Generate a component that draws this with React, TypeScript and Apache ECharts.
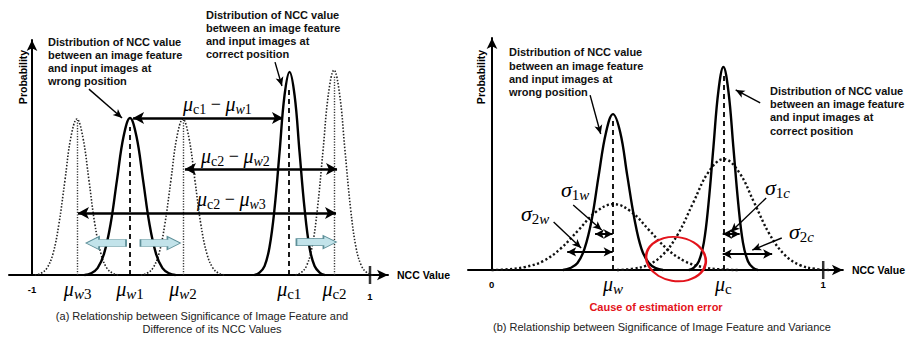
import React, { useEffect, useRef } from 'react';
import * as echarts from 'echarts';

// ---------- Panel (a): NCC value positions and distributions ----------
const A_MU_NAMES = ['w3', 'w1', 'w2', 'c1', 'c2'];
const A_MU_VALUES = [-0.730, -0.420, -0.107, 0.522, 0.790];
const A_MU_LINE_TOPS = [66, 63, 66, 79, 85];
const A_MU_LINE_KIND = ['dotted', 'dashed', 'dotted', 'dashed', 'dotted'];
const A_END_TICKS = [-1, 1];

const A_W3_X = [-0.983, -0.947, -0.912, -0.876, -0.841, -0.805, -0.770, -0.734, -0.699, -0.663, -0.628, -0.592, -0.557, -0.521, -0.486];
const A_W3_Y = [0, 0.7, 2.9, 9.0, 21.6, 40.3, 58.6, 66.4, 58.6, 40.3, 21.6, 9.0, 2.9, 0.7, 0];
const A_W1_X = [-0.689, -0.651, -0.612, -0.574, -0.535, -0.497, -0.458, -0.420, -0.382, -0.343, -0.305, -0.266, -0.228, -0.189, -0.151];
const A_W1_Y = [0, 0.7, 2.9, 9.0, 21.7, 40.5, 59.0, 66.8, 59.0, 40.5, 21.7, 9.0, 2.9, 0.7, 0];
const A_W2_X = [-0.356, -0.320, -0.285, -0.249, -0.214, -0.178, -0.143, -0.107, -0.072, -0.036, -0.001, 0.035, 0.071, 0.106, 0.142];
const A_W2_Y = [0, 0.7, 2.9, 9.0, 21.6, 40.3, 58.6, 66.4, 58.6, 40.3, 21.6, 9.0, 2.9, 0.7, 0];
const A_C1_X = [0.317, 0.346, 0.376, 0.405, 0.435, 0.465, 0.494, 0.524, 0.554, 0.583, 0.613, 0.642, 0.672, 0.702, 0.731];
const A_C1_Y = [0, 1.0, 3.8, 11.7, 28.1, 52.4, 76.3, 86.4, 76.3, 52.4, 28.1, 11.7, 3.8, 1.0, 0];
const A_C2_X = [0.559, 0.592, 0.624, 0.657, 0.689, 0.722, 0.754, 0.787, 0.820, 0.852, 0.885, 0.917, 0.950, 0.982, 1.015];
const A_C2_Y = [0, 1.0, 3.8, 11.8, 28.3, 52.9, 77.0, 87.2, 77.0, 52.9, 28.3, 11.8, 3.8, 1.0, 0];

// difference arrows (mu_c - mu_w)
const A_DIFF_LABELS = [['c1', 'w', '1'], ['c2', 'w', '2'], ['c2', 'w', '3']];
const A_DIFF_Y = [66.8, 45.1, 26.4];
const A_DIFF_FROM = [-0.402, -0.095, -0.728];
const A_DIFF_TO = [0.485, 0.805, 0.799];
// shift arrows (blue)
const A_SHIFT_X = [-0.562, -0.240, 0.683];
const A_SHIFT_Y = [13.6, 13.6, 14.0];
const A_SHIFT_DIR = ['left', 'right', 'right'];
// leader lines [x0, y0, x1, y1]
const A_LEADERS = [
  [-0.663, 79.1, -0.467, 66.8],
  [0.438, 90.6, 0.479, 80.4],
];

// ---------- Panel (b): variance ----------
const B_MU_NAMES = ['w', 'c'];
const B_MU_VALUES = [0.366, 0.699];
const B_MU_LINE_TOPS = [65.5, 85];
const B_END_TICKS = [0, 1];

const B_W1_X = [0.215, 0.237, 0.259, 0.280, 0.302, 0.323, 0.345, 0.366, 0.388, 0.409, 0.431, 0.452, 0.474, 0.495, 0.517];
const B_W1_Y = [0, 0.8, 3.0, 9.1, 21.8, 40.8, 59.3, 67.2, 59.3, 40.8, 21.8, 9.1, 3.0, 0.8, 0];
const B_W2_X = [0.000, 0.048, 0.101, 0.155, 0.208, 0.262, 0.315, 0.368, 0.421, 0.475, 0.528, 0.582, 0.635, 0.688, 0.742];
const B_W2_Y = [0, 0.3, 1.3, 3.8, 9.2, 17.2, 25.1, 28.4, 25.1, 17.2, 9.2, 3.8, 1.3, 0.3, 0];
const B_C1_X = [0.595, 0.610, 0.625, 0.640, 0.654, 0.669, 0.684, 0.699, 0.714, 0.729, 0.744, 0.758, 0.773, 0.788, 0.803];
const B_C1_Y = [0, 1.0, 3.8, 11.8, 28.4, 53.1, 77.2, 87.5, 77.2, 53.1, 28.4, 11.8, 3.8, 1.0, 0];
const B_C2_X = [0.378, 0.424, 0.470, 0.516, 0.562, 0.608, 0.654, 0.700, 0.746, 0.792, 0.838, 0.884, 0.930, 0.976, 1.022];
const B_C2_Y = [0, 0.5, 2.1, 6.5, 15.5, 29.0, 42.2, 47.8, 42.2, 29.0, 15.5, 6.5, 2.1, 0.5, 0];

// sigma arrows
const B_SIGMA_LABELS = [['1', 'w'], ['2', 'w'], ['1', 'c'], ['2', 'c']];
const B_SIGMA_FROM = [0.312, 0.228, 0.697, 0.697];
const B_SIGMA_TO = [0.365, 0.365, 0.748, 0.846];
const B_SIGMA_Y = [15.5, 7.8, 15.5, 6.9];
const B_LEADERS = [
  [0.297, 75.4, 0.329, 58.6],
  [0.810, 72.0, 0.736, 77.6],
  [0.246, 28.0, 0.332, 17.2],
  [0.187, 20.7, 0.270, 9.5],
  [0.828, 31.0, 0.721, 16.4],
  [0.875, 13.8, 0.786, 8.6],
];
const B_ERROR_AT = [0.556, 4.7];

// ---------- Texts ----------
const NOTE_WRONG = ['Distribution of NCC value', 'between an image feature', 'and input images at', 'wrong position'];
const NOTE_CORRECT = ['Distribution of NCC value', 'between an image feature', 'and input images at', 'correct position'];
const CAPTION_A = ['(a) Relationship between Significance of Image Feature and', 'Difference of its NCC Values'];
const CAPTION_B = '(b) Relationship between Significance of Image Feature and Variance';
const ERROR_TEXT = 'Cause of estimation error';
const AXIS_X_NAME = 'NCC Value';
const AXIS_Y_NAME = 'Probability';

const SANS = "'Liberation Sans', Arial, Helvetica, sans-serif";
const SERIF = "'Liberation Serif', 'Times New Roman', serif";

const zip = (xs: number[], ys: number[]) => xs.map((x, i) => [x, ys[i]]);

function mathRich(big: number, sub: number, useFill: boolean) {
  const c = useFill ? { fill: '#000' } : { color: '#000' };
  return {
    m: { fontFamily: SERIF, fontStyle: 'italic', fontSize: big, lineHeight: big + 4, ...c },
    i: { fontFamily: SERIF, fontStyle: 'italic', fontSize: sub, lineHeight: sub - 4, verticalAlign: 'bottom', ...c },
    r: { fontFamily: SERIF, fontSize: sub, lineHeight: sub - 4, verticalAlign: 'bottom', ...c },
    o: { fontFamily: SERIF, fontSize: big - 2, lineHeight: big + 4, ...c },
    n: { fontFamily: SANS, fontWeight: 'bold', fontSize: 9.5, lineHeight: big + 4, ...c },
    n2: { fontFamily: SANS, fontWeight: 'bold', fontSize: 9.5, lineHeight: big + 18, ...c },
  };
}

function muLabel(name: string) {
  const letter = name[0];
  const rest = name.slice(1);
  if (letter === 'w') return '{m|μ}{i|w}' + (rest ? '{r|' + rest + '}' : '');
  return '{m|μ}{r|' + name + '}';
}

function curve(gridIdx: number, xs: number[], ys: number[], kind: 'solid' | 'dotA' | 'dotB') {
  const ls: any =
    kind === 'solid'
      ? { color: '#000', width: 2.4, type: 'solid' }
      : kind === 'dotA'
      ? { color: '#222', width: 1.6, type: [1.5, 1.7] }
      : { color: '#111', width: 2.4, type: [2.2, 2.4] };
  return {
    type: 'line',
    xAxisIndex: gridIdx,
    yAxisIndex: gridIdx,
    data: zip(xs, ys),
    smooth: 0.4,
    symbol: 'none',
    lineStyle: ls,
    silent: true,
    clip: false,
  };
}

function seg(x0: number, y0: number, x1: number, y1: number, style: any, s0: string, s1: string, size: any) {
  return [
    { coord: [x0, y0], symbol: s0, symbolSize: size, lineStyle: style },
    { coord: [x1, y1], symbol: s1, symbolSize: size },
  ];
}

const BLOCK_ARROW = 'path://M0,3 L27,3 L27,0 L40,6.5 L27,13 L27,10 L0,10 Z';

function buildOption() {
  const dashed = { color: '#000', width: 1.8, type: [5, 4] };
  const dotted = { color: '#333', width: 1.4, type: [1.2, 1.5] };
  const thick = { color: '#000', width: 2.6, type: 'solid' };
  const thin = { color: '#000', width: 1.4, type: 'solid' };

  const aLines: any[] = [];
  A_MU_VALUES.forEach((v, i) =>
    aLines.push(seg(v, 0, v, A_MU_LINE_TOPS[i], A_MU_LINE_KIND[i] === 'dashed' ? dashed : dotted, 'none', 'none', 0))
  );
  A_DIFF_Y.forEach((y, i) => aLines.push(seg(A_DIFF_FROM[i], y, A_DIFF_TO[i], y, thick, 'arrow', 'arrow', [9, 11])));
  A_LEADERS.forEach((l) => aLines.push(seg(l[0], l[1], l[2], l[3], thin, 'none', 'arrow', [6, 9])));

  const bLines: any[] = [];
  B_MU_VALUES.forEach((v, i) => bLines.push(seg(v, 0, v, B_MU_LINE_TOPS[i], dashed, 'none', 'none', 0)));
  B_SIGMA_Y.forEach((y, i) => bLines.push(seg(B_SIGMA_FROM[i], y, B_SIGMA_TO[i], y, { ...thick, width: 2 }, 'arrow', 'arrow', [7, 9])));
  B_LEADERS.forEach((l) => bLines.push(seg(l[0], l[1], l[2], l[3], thin, 'none', 'arrow', [6, 9])));

  const aValues = [A_END_TICKS[0], ...A_MU_VALUES, A_END_TICKS[1]];
  const aLabels = ['{n|-1}', ...A_MU_NAMES.map(muLabel), '{n2|1}'];
  const bValues = [B_END_TICKS[0], ...B_MU_VALUES, B_END_TICKS[1]];
  const bLabels = ['{n|0}', ...B_MU_NAMES.map(muLabel), '{n|1}'];
  const pick = (vals: number[], labs: string[]) => (v: number) => {
    const k = vals.findIndex((x) => Math.abs(x - v) < 1e-6);
    return k >= 0 ? labs[k] : '';
  };

  const axisLine = { show: true, onZero: true, symbol: ['none', 'arrow'], symbolSize: [8, 11], lineStyle: { color: '#000', width: 2 } };
  const nameStyle = { fontFamily: SANS, fontWeight: 'bold', fontSize: 10.5, color: '#000' };

  const xAxisCommon = (idx: number, min: number, max: number, vals: number[], labs: string[]) => ({
    gridIndex: idx,
    type: 'value',
    min,
    max,
    axisLine,
    axisTick: { show: false },
    splitLine: { show: false },
    axisLabel: {
      show: true,
      customValues: vals,
      formatter: pick(vals, labs),
      margin: 2,
      rich: mathRich(20, 15, false),
    },
    name: AXIS_X_NAME,
    nameLocation: 'end',
    nameGap: 9,
    nameTextStyle: nameStyle,
  });

  const yAxisCommon = (idx: number, offset: number) => ({
    gridIndex: idx,
    type: 'value',
    min: 0,
    max: 100,
    offset,
    axisLine: { ...axisLine, onZero: false },
    axisTick: { show: false },
    axisLabel: { show: false },
    splitLine: { show: false },
  });

  const noteStyle = (x: number, y: number, lines: string[], lh: number) => ({
    type: 'text',
    x,
    y,
    silent: true,
    style: {
      text: lines.join('\n'),
      fontFamily: SANS,
      fontWeight: 'bold',
      fontSize: 11,
      lineHeight: lh,
      fill: '#111',
      align: 'left',
      verticalAlign: 'top',
    },
  });

  const mathText = (x: number, y: number, text: string, big: number, sub: number) => ({
    type: 'text',
    x,
    y,
    silent: true,
    style: { text, rich: mathRich(big, sub, true), align: 'left', verticalAlign: 'middle' },
  });

  const diffText = (l: string[]) => '{m|μ}{r|' + l[0] + '}{o| − }{m|μ}{i|' + l[1] + '}{r|' + l[2] + '}';
  const sigText = (l: string[]) => '{m|σ}{r|' + l[0] + '}{i|' + l[1] + '}';

  const caption = (x: number, y: number, text: string) => ({
    type: 'text', x, y, silent: true,
    style: { text, fontFamily: SANS, fontSize: 11, fill: '#222', align: 'center', verticalAlign: 'middle' },
  });

  const graphic: any[] = [
    {
      type: 'text', x: 23, y: 77, rotation: Math.PI / 2, silent: true,
      style: { text: AXIS_Y_NAME, fontFamily: SANS, fontWeight: 'bold', fontSize: 10.5, fill: '#000', align: 'center', verticalAlign: 'middle' },
    },
    {
      type: 'text', x: 481, y: 77, rotation: Math.PI / 2, silent: true,
      style: { text: AXIS_Y_NAME, fontFamily: SANS, fontWeight: 'bold', fontSize: 10.5, fill: '#000', align: 'center', verticalAlign: 'middle' },
    },
    noteStyle(48, 35.5, NOTE_WRONG, 13),
    noteStyle(206, 8.5, NOTE_CORRECT, 13),
    noteStyle(509, 45.8, NOTE_WRONG, 13.3),
    noteStyle(770, 84, NOTE_CORRECT, 13.3),
    mathText(183, 104, diffText(A_DIFF_LABELS[0]), 20, 14),
    mathText(201, 156, diffText(A_DIFF_LABELS[1]), 20, 14),
    mathText(197, 199, diffText(A_DIFF_LABELS[2]), 20, 14),
    mathText(561, 189, sigText(B_SIGMA_LABELS[0]), 22, 15),
    mathText(521, 213, sigText(B_SIGMA_LABELS[1]), 22, 15),
    mathText(765, 187, sigText(B_SIGMA_LABELS[2]), 22, 15),
    mathText(789, 231, sigText(B_SIGMA_LABELS[3]), 22, 15),
    caption(202, 316, CAPTION_A[0]),
    caption(212, 329, CAPTION_A[1]),
    caption(662, 327, CAPTION_B),
    {
      type: 'text', x: 656, y: 307, silent: true,
      style: { text: ERROR_TEXT, fontFamily: SANS, fontWeight: 'bold', fontSize: 11, fill: '#e3131b', align: 'center', verticalAlign: 'middle' },
    },
  ];

  return {
    animation: false,
    backgroundColor: '#fff',
    grid: [
      { left: 9, top: 40, width: 379, height: 235 },
      { left: 468, top: 38, width: 381, height: 232 },
    ],
    xAxis: [
      xAxisCommon(0, -1.1361, 1.1065, aValues, aLabels),
      xAxisCommon(1, -0.0712, 1.0594, bValues, bLabels),
    ],
    yAxis: [yAxisCommon(0, -23), yAxisCommon(1, -24)],
    series: [
      curve(0, A_W3_X, A_W3_Y, 'dotA'),
      curve(0, A_W2_X, A_W2_Y, 'dotA'),
      curve(0, A_C2_X, A_C2_Y, 'dotA'),
      curve(0, A_W1_X, A_W1_Y, 'solid'),
      curve(0, A_C1_X, A_C1_Y, 'solid'),
      {
        type: 'line', xAxisIndex: 0, yAxisIndex: 0, data: [[-1, 0]], symbol: 'none', lineStyle: { width: 0 }, silent: true, clip: false,
        markLine: { silent: true, label: { show: false }, data: aLines },
        markPoint: {
          silent: true,
          label: { show: false },
          data: A_SHIFT_X.map((x, i) => ({
            coord: [x, A_SHIFT_Y[i]],
            symbol: BLOCK_ARROW,
            symbolSize: [40, 13],
            symbolRotate: A_SHIFT_DIR[i] === 'left' ? 180 : 0,
            itemStyle: { color: '#c2e3ea', borderColor: '#5d8f98', borderWidth: 1 },
          })),
        },
      },
      {
        type: 'scatter', xAxisIndex: 0, yAxisIndex: 0, data: [[A_END_TICKS[1], 0]], symbol: 'rect', symbolSize: [2.5, 18],
        itemStyle: { color: '#000' }, silent: true, clip: false,
      },
      curve(1, B_W2_X, B_W2_Y, 'dotB'),
      curve(1, B_C2_X, B_C2_Y, 'dotB'),
      curve(1, B_W1_X, B_W1_Y, 'solid'),
      curve(1, B_C1_X, B_C1_Y, 'solid'),
      {
        type: 'line', xAxisIndex: 1, yAxisIndex: 1, data: [[0, 0]], symbol: 'none', lineStyle: { width: 0 }, silent: true, clip: false,
        markLine: { silent: true, label: { show: false }, data: bLines },
        markPoint: {
          silent: true,
          label: { show: false },
          data: [
            {
              coord: B_ERROR_AT,
              symbol: 'circle',
              symbolSize: [60, 44],
              symbolRotate: -8,
              itemStyle: { color: 'rgba(0,0,0,0)', borderColor: '#e3131b', borderWidth: 2.2 },
            },
          ],
        },
      },
      {
        type: 'scatter', xAxisIndex: 1, yAxisIndex: 1, data: [[B_END_TICKS[1], 0]], symbol: 'rect', symbolSize: [2.5, 18],
        itemStyle: { color: '#000' }, silent: true, clip: false,
      },
    ],
    graphic,
  };
}

export default function App() {
  const ref = useRef<HTMLDivElement>(null);
  useEffect(() => {
    if (!ref.current) return;
    const chart = echarts.init(ref.current, undefined, { renderer: 'svg' });
    chart.setOption(buildOption() as any);
    return () => chart.dispose();
  }, []);
  return <div ref={ref} style={{ position: 'fixed', left: 0, top: 0, width: 908, height: 338, background: '#fff' }} />;
}
